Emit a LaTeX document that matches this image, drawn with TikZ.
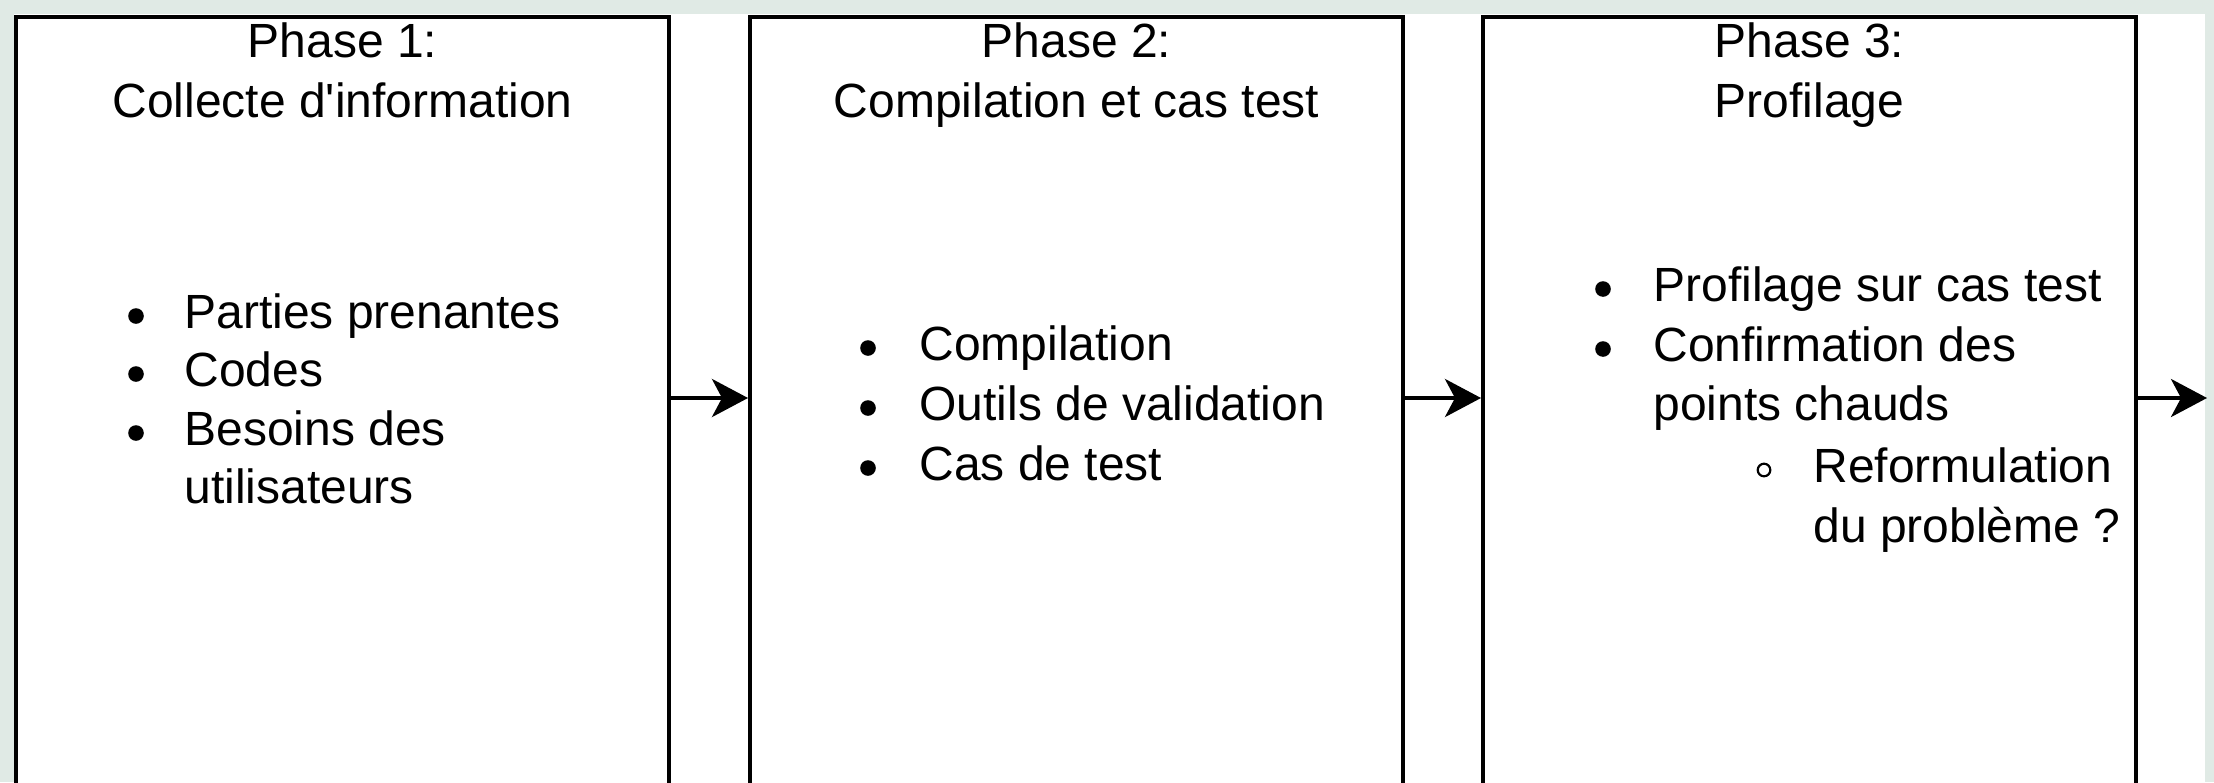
\documentclass[tikz,border=0pt]{standalone}
\usepackage{fontspec}
\newfontfamily\phasefont{Liberation Sans}
\usetikzlibrary{arrows.meta}
\definecolor{pagebg}{RGB}{224,234,229}
\begin{document}
\begin{tikzpicture}[x=0.5pt,y=-0.5pt,
  phasebox/.style={draw=black, line width=2pt, fill=white, minimum width=326.5pt,
    minimum height=391.5pt, inner sep=0pt},
  title/.style={font=\phasefont\fontsize{24}{30}\selectfont, inner sep=0pt, anchor=base},
  itemtext/.style={font=\phasefont\fontsize{24}{29.5}\selectfont, inner sep=0pt, anchor=base west},
  dot/.style={circle, fill=black, inner sep=0pt, minimum size=7.8pt},
  ring/.style={circle, draw=black, line width=1.1pt, inner sep=0pt, minimum size=6.3pt},
  flow/.style={line width=2pt, -{Stealth[length=18pt,width=19pt,inset=5pt]}}
]
\useasboundingbox (0,0) rectangle (2214,782);
\clip (0,0) rectangle (2214,782);
\fill[pagebg] (0,0) rectangle (2214,782);
\fill[white] (14,14) rectangle (2205,800);

% the three phase boxes (their lower edges run off the page)
\node[phasebox] (p1) at (342.5,408.5) {};
\node[phasebox] (p2) at (1076.5,408.5) {};
\node[phasebox] (p3) at (1809.5,408.5) {};

% titles
\node[title] (t1a) at (342.5,57) {Phase 1:};
\node[title] (t1b) at (342.5,117) {Collecte d'information};
\node[title] (t2a) at (1076.5,57) {Phase 2:};
\node[title] (t2b) at (1076.5,117) {Compilation et cas test};
\node[title] (t3a) at (1809.5,57) {Phase 3:};
\node[title] (t3b) at (1809.5,117) {Profilage};

% phase 1 list
\node[dot] (b1a) at (136,316) {};
\node[itemtext] (i1a) at (184,328) {Parties prenantes};
\node[dot] (b1b) at (136,374) {};
\node[itemtext] (i1b) at (184,386) {Codes};
\node[dot] (b1c) at (136,433) {};
\node[itemtext] (i1c) at (184,445) {Besoins des};
\node[itemtext] (i1d) at (184,503) {utilisateurs};

% phase 2 list
\node[dot] (b2a) at (868,348) {};
\node[itemtext] (i2a) at (919,360) {Compilation};
\node[dot] (b2b) at (868,408) {};
\node[itemtext] (i2b) at (919,420) {Outils de validation};
\node[dot] (b2c) at (868,468) {};
\node[itemtext] (i2c) at (919,480) {Cas de test};

% phase 3 list
\node[dot] (b3a) at (1603,289) {};
\node[itemtext] (i3a) at (1653,301) {Profilage sur cas test};
\node[dot] (b3b) at (1603,349) {};
\node[itemtext] (i3b) at (1653,361) {Confirmation des};
\node[itemtext] (i3c) at (1653,420) {points chauds};
\node[ring] (b3c) at (1764,470) {};
\node[itemtext] (i3d) at (1813,482) {Reformulation};
\node[itemtext] (i3e) at (1813,542) {du problème ?};

% connectors
\coordinate (exit) at (2207,398);
\draw[flow] ([yshift=5.25pt]p1.east) -- ([yshift=5.25pt]p2.west);
\draw[flow] ([yshift=5.25pt]p2.east) -- ([yshift=5.25pt]p3.west);
\draw[flow] ([yshift=5.25pt]p3.east) -- (exit);
\end{tikzpicture}
\end{document}
